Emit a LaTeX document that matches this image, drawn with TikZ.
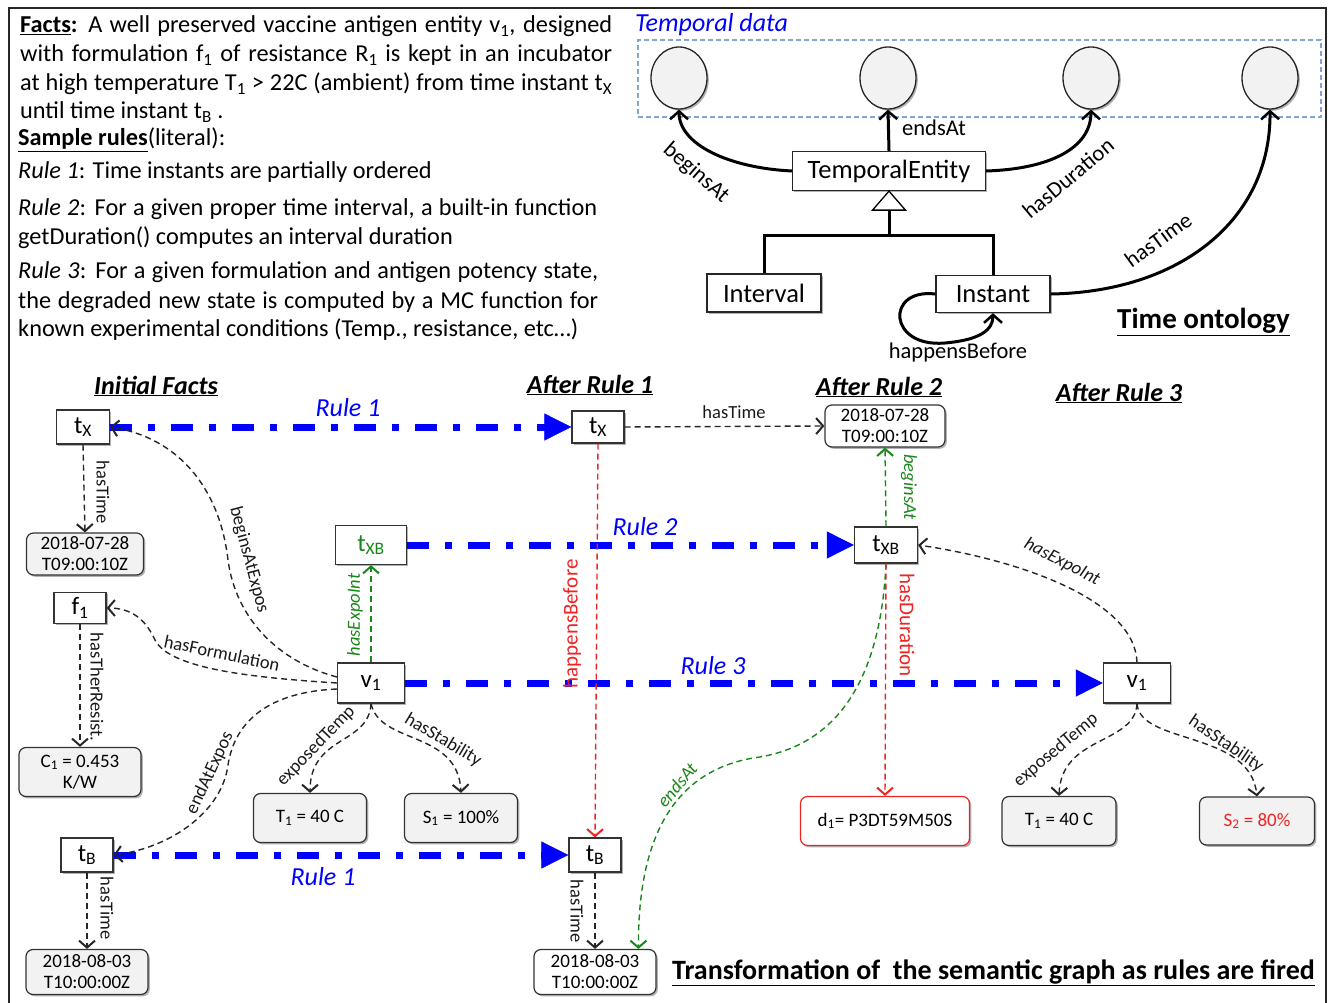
\documentclass[tikz,border=0pt]{standalone}
\usepackage{fontspec}
\setmainfont{Carlito}
\usetikzlibrary{arrows.meta,shapes.geometric,shadows}
\definecolor{gfill}{RGB}{242,242,242}
\definecolor{dgreen}{RGB}{25,135,25}
\definecolor{lred}{RGB}{240,35,35}
\definecolor{tdblue}{RGB}{130,165,215}
\newcommand\myfs[1]{\fontsize{#1}{#1}\selectfont}
\tikzset{
  txt/.style={font=\fontsize{24.3}{28}\selectfont, inner sep=0pt, anchor=base west},
  shd/.style={drop shadow={shadow xshift=1.8pt,shadow yshift=-1.8pt,opacity=0.3,fill=black}},
  inst/.style={draw=black!80, line width=1.2pt, fill=white, rectangle, inner sep=0pt, font=\myfs{25}, shd},
  lit/.style={draw=black!80, line width=1.2pt, fill=gfill, rounded corners=7pt, inner sep=0pt, align=center, font=\fontsize{19}{21}\selectfont, shd},
  cls/.style={draw=black!85, line width=1.3pt, fill=white, inner sep=0pt, font=\myfs{26.5}, shd},
  circ/.style={ellipse, draw=black!85, line width=1.3pt, fill=gfill, minimum width=56pt, minimum height=62pt, inner sep=0pt, shd},
  onto/.style={draw=black, line width=3pt, -{Straight Barb[length=8pt,width=18pt,line width=2.5pt]}},
  olbl/.style={font=\myfs{22.5}, inner sep=1pt},
  rulearrow/.style={draw=blue, line width=7pt, dash pattern=on 22pt off 16pt on 7pt off 16pt, -{Triangle[length=27pt,width=27pt,line width=0.5pt]}},
  rlabel/.style={text=blue, font=\itshape\myfs{26}, inner sep=1pt},
  rel/.style={draw=black!85, line width=1.4pt, dash pattern=on 6pt off 4pt, -{Straight Barb[length=7pt,width=16pt,line width=2pt]}},
  grel/.style={rel, draw=dgreen},
  rrel/.style={rel, draw=lred},
  lbl/.style={font=\myfs{18.5}, inner sep=1pt, text=black!90},
  glbl/.style={font=\itshape\myfs{18.5}, inner sep=1pt, text=dgreen},
  rlbl/.style={font=\myfs{21}, inner sep=1pt, text=lred},
  head/.style={font=\bfseries\itshape\myfs{26}, inner sep=1pt},
}
\begin{document}
\begin{tikzpicture}[x=1pt,y=-1pt]
\useasboundingbox (0,0) rectangle (1331,1003);
% outer frame
\draw[line width=2.5pt, black!85] (9,1003) -- (9,8) -- (1326,8) -- (1326,1003);

% ---------- facts text ----------
\node[txt] (l1) at (20,33) {\makebox[592pt][s]{\underline{\textbf{Facts}}\textbf{:} A well preserved vaccine antigen entity v\textsubscript{1}, designed}};
\node[txt] (l2) at (20,62) {\makebox[592pt][s]{with formulation f\textsubscript{1} of resistance R\textsubscript{1} is kept in an incubator}};
\node[txt] (l3) at (20,91) {\makebox[592pt][s]{at high temperature T\textsubscript{1} > 22C (ambient) from time instant t\textsubscript{X}}};
\node[txt] (l4) at (20,119) {until time instant t\textsubscript{B} .};
\node[txt] (l5) at (18,146) {\underline{\textbf{Sample rules}}(literal):};
\node[txt] (l6) at (18,179) {\textit{Rule 1}: Time instants are partially ordered};
\node[txt] (l7) at (18,216) {\makebox[579pt][s]{\textit{Rule 2}: For a given proper time interval, a built-in function}};
\node[txt] (l8) at (18,244) {getDuration() computes an interval duration};
\node[txt] (l9) at (18,279) {\makebox[580pt][s]{\textit{Rule 3}: For a given formulation and antigen potency state,}};
\node[txt] (l10) at (18,308) {\makebox[580pt][s]{the degraded new state is computed by a MC function for}};
\node[txt] (l11) at (18,336) {known experimental conditions (Temp., resistance, etc\ldots)};

% ---------- time ontology ----------
\node[text=blue, font=\itshape\myfs{26}, anchor=west, inner sep=0pt] (tdl) at (635,25) {Temporal data};
\node[draw=tdblue, line width=1.2pt, dash pattern=on 5pt off 3pt, minimum width=683pt, minimum height=77pt, inner sep=0pt] (tdbox) at (979.5,78.5) {};
\node[circ] (c1) at (679,78) {};
\node[circ] (c2) at (888,78) {};
\node[circ] (c3) at (1091,78) {};
\node[circ] (c4) at (1270,78) {};
\node[cls, minimum width=193pt, minimum height=39pt] (te) at (889,171) {TemporalEntity};
\node[cls, minimum width=114pt, minimum height=38pt] (intv) at (764,293) {Interval};
\node[cls, minimum width=114pt, minimum height=37pt] (inst) at (993,294) {Instant};

\draw[onto] (te.west) .. controls (730,168) and (679,145) .. (c1.south);
\draw[onto] (te.north) -- (c2.south);
\draw[onto] (te.east) .. controls (1050,169) and (1091,148) .. (c3.south);
\draw[onto] (inst.east) .. controls (1180,292) and (1271,220) .. (c4.south);
\draw[onto] (inst.west) .. controls (885,288) and (888,348) .. (945,343) .. controls (980,340) and (993,330) .. (inst.south);

\coordinate (hj) at (889,236);
\draw[line width=3pt] (intv.north) |- (hj) -| (inst.north);
\draw[line width=3pt] (hj) -- (889,211);
\draw[line width=1.3pt, fill=white] (te.south) -- ++(16.5,19) -- ++(-33,0) -- cycle;

\node[olbl, rotate=-41] (ob1) at (696,173) {beginsAt};
\node[olbl, anchor=west] (ob2) at (901,128) {endsAt};
\node[olbl, rotate=40] (ob3) at (1068,178) {hasDuration};
\node[olbl, rotate=36] (ob4) at (1158,240) {hasTime};
\node[olbl] (ob5) at (958,353) {happensBefore};
\node[font=\bfseries\myfs{29}, anchor=west, inner sep=0pt] (tonto) at (1117,322) {\underline{Time ontology}};

% ---------- headings ----------
\node[head] (h0) at (156,386) {\underline{Initial Facts}};
\node[head] (h1) at (590,385) {\underline{After Rule 1}};
\node[head] (h2) at (879,387) {\underline{After Rule 2}};
\node[head] (h3) at (1119,393) {\underline{After Rule 3}};

% ---------- initial facts ----------
\node[inst, minimum width=53pt, minimum height=34pt] (txI) at (83,427) {t\textsubscript{X}};
\node[lit, minimum width=117pt, minimum height=42pt] (dateA) at (85,554) {2018-07-28\\T09:00:10Z};
\node[inst, minimum width=52pt, minimum height=31pt] (f1) at (80,608) {f\textsubscript{1}};
\node[lit, minimum width=122pt, minimum height=49pt] (C1) at (80,772) {C\textsubscript{1} = 0.453\\K/W};
\node[inst, minimum width=52pt, minimum height=34pt] (tBI) at (87,855) {t\textsubscript{B}};
\node[lit, minimum width=122pt, minimum height=45pt] (dateB) at (87,972) {2018-08-03\\T10:00:00Z};
\node[inst, minimum width=71pt, minimum height=39pt, text=dgreen] (txBI) at (371,545) {t\textsubscript{XB}};
\node[inst, minimum width=67pt, minimum height=40pt] (v1I) at (371,683) {v\textsubscript{1}};
\node[lit, minimum width=113pt, minimum height=49pt] (T1I) at (310,818) {T\textsubscript{1} = 40 C};
\node[lit, minimum width=113pt, minimum height=49pt] (S1) at (461,818) {S\textsubscript{1} = 100\%};

% ---------- after rule 1 / 2 / 3 ----------
\node[inst, minimum width=52pt, minimum height=32pt] (tX1) at (598,427) {t\textsubscript{X}};
\node[inst, minimum width=52pt, minimum height=34pt] (tB1) at (595,855) {t\textsubscript{B}};
\node[lit, minimum width=122pt, minimum height=45pt, fill=white] (dateC) at (595,972) {2018-08-03\\T10:00:00Z};
\node[lit, minimum width=120pt, minimum height=42pt, fill=white] (dateD) at (885,426) {2018-07-28\\T09:00:10Z};
\node[inst, minimum width=63pt, minimum height=36pt] (txB2) at (886,545) {t\textsubscript{XB}};
\node[lit, draw=lred, fill=white, minimum width=169pt, minimum height=49pt] (d1) at (885,821) {d\textsubscript{1}= P3DT59M50S};
\node[inst, minimum width=67pt, minimum height=40pt] (v13) at (1137,683) {v\textsubscript{1}};
\node[lit, minimum width=114pt, minimum height=49pt] (T13) at (1059,821) {T\textsubscript{1} = 40 C};
\node[lit, minimum width=115pt, minimum height=48pt, text=lred] (S2) at (1257,821) {S\textsubscript{2} = 80\%};

% ---------- rule arrows ----------
\draw[rulearrow] (txI.east) -- (tX1.west);
\draw[rulearrow] (txBI.east) -- (txB2.west);
\draw[rulearrow] (v1I.east) -- (v13.west);
\draw[rulearrow] (tBI.east) -- (tB1.west);
\node[rlabel] (r1a) at (348,408) {Rule 1};
\node[rlabel] (r2) at (645,527) {Rule 2};
\node[rlabel] (r3) at (713,666) {Rule 3};
\node[rlabel] (r1b) at (323,877) {Rule 1};

% ---------- black relations ----------
\draw[rel] (txI.south) -- (dateA.north);
\draw[rel] (v1I.170) .. controls (280,662) and (236,620) .. (228,560) .. controls (220,490) and (180,438) .. (txI.east);
\draw[rel] (v1I.west) .. controls (260,678) and (170,670) .. (155,640) .. controls (145,618) and (130,608) .. (f1.east);
\draw[rel] (f1.south) -- (C1.north);
\draw[rel] (v1I.190) .. controls (270,692) and (235,720) .. (228,765) .. controls (222,812) and (170,848) .. (tBI.east);
\draw[rel] (v1I.south) .. controls (369,745) and (310,735) .. (T1I.north);
\draw[rel] (v1I.south) .. controls (380,745) and (458,730) .. (S1.north);
\draw[rel] (tBI.south) -- (dateB.north);
\draw[rel] (tX1.east) -- (dateD.west);
\draw[rel] (tB1.south) -- (dateC.north);
\draw[rel] (v13.north) .. controls (1135,600) and (1020,560) .. (txB2.east);
\draw[rel] (v13.south) .. controls (1135,745) and (1061,735) .. (T13.north);
\draw[rel] (v13.south) .. controls (1140,745) and (1250,730) .. (S2.north);

% ---------- green / red relations ----------
\draw[grel] (v1I.north) -- (txBI.south);
\draw[grel] (txB2.north) -- (dateD.south);
\draw[grel] (txB2.south) .. controls (880,690) and (830,745) .. (760,757) .. controls (660,770) and (638,860) .. (dateC.28);
\draw[rrel] (tX1.south) -- (tB1.north);
\draw[rrel] (txB2.south) -- (d1.north);

% ---------- labels ----------
\node[lbl, rotate=-90] (b1) at (103,492) {hasTime};
\node[lbl, rotate=-75] (b2) at (249,560) {beginsAtExpos};
\node[lbl, rotate=-12] (b3) at (222,653) {hasFormulation};
\node[lbl, rotate=-90] (b4) at (97,687) {hasTherResist.};
\node[lbl, rotate=65] (b5) at (210,773) {endAtExpos};
\node[lbl, rotate=46] (b6) at (316,746) {exposedTemp};
\node[lbl, rotate=-31] (b7) at (443,740) {hasStability};
\node[lbl, rotate=-90] (b8) at (107,908) {hasTime};
\node[lbl] (b9) at (734,412) {hasTime};
\node[lbl, rotate=-90] (b10) at (577,911) {hasTime};
\node[lbl, font=\itshape\myfs{18.5}, rotate=-27] (b11) at (1062,562) {hasExpoInt};
\node[lbl, rotate=40] (b12) at (1056,750) {exposedTemp};
\node[lbl, rotate=-34] (b13) at (1226,744) {hasStability};
\node[glbl, rotate=90] (g1) at (355,615) {hasExpoInt};
\node[glbl, rotate=-90] (g2) at (909,487) {beginsAt};
\node[glbl, rotate=50] (g3) at (677,785) {endsAt};
\node[rlbl, rotate=90] (rl1) at (572,624) {happensBefore};
\node[rlbl, rotate=-90] (rl2) at (907,625) {hasDuration};

\node[font=\bfseries\myfs{28}, anchor=west, inner sep=0pt] (trans) at (672,973) {\underline{Transformation of\ \ the semantic graph as rules are fired}};
\end{tikzpicture}
\end{document}
